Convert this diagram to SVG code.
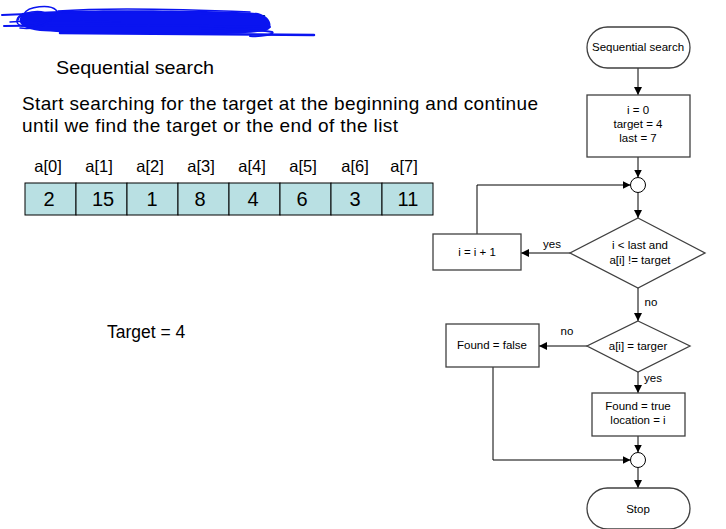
<svg xmlns="http://www.w3.org/2000/svg" width="726" height="529" viewBox="0 0 726 529">
<style>
text{font-family:"Liberation Sans",Arial,sans-serif;fill:#000}
.fc{font-size:11.5px;text-anchor:middle}
.box{fill:#fff;stroke:#404040;stroke-width:1.3}
.ln{fill:none;stroke:#000;stroke-width:1}
.cell{fill:#b9e0e3;stroke:#000;stroke-width:1}
.lbl{font-size:16.5px;text-anchor:middle}
.num{font-size:20px;text-anchor:middle}
.scr{fill:none;stroke:#0a14f0;stroke-linecap:round}
</style>
<defs>
<marker id="ah" viewBox="0 0 10 10" refX="10" refY="5" markerWidth="8" markerHeight="8" markerUnits="userSpaceOnUse" orient="auto">
<path d="M0,0 L10,5 L0,10 Z" fill="#000"/>
</marker>
</defs>
<g id="title">
<text x="30" y="27" font-size="22" textLength="235" lengthAdjust="spacingAndGlyphs">Searching for array</text>
<path d="M22,13 C70,9 200,10 258,13 C268,16 272,22 270,28 C268,33 240,34 200,34 C140,35 70,33 40,31 C24,29 18,24 20,18 Z" fill="#0a14f0"/>
<g class="scr">
<path d="M2,15 C40,13 120,12 200,13 C240,14 260,15 262,17" stroke-width="2"/>
<path d="M4,26 C60,25 150,25 270,27" stroke-width="2"/>
<path d="M60,33 C150,34 250,34 314,35" stroke-width="2.5"/>
<path d="M24,14 C28,6 50,4 56,10 C62,18 40,26 22,26 C14,24 16,16 24,14" stroke-width="1.5"/>
<path d="M18,20 C20,12 42,8 50,16 C54,24 34,30 20,28" stroke-width="1.5"/>
<path d="M58,11 C110,7 180,9 250,12" stroke-width="1.5"/>
<path d="M200,28 C230,29 260,30 272,32 C276,34 262,37 250,36" stroke-width="2"/>
<path d="M10,22 C40,20 80,21 120,22" stroke-width="1.5"/>
</g>
</g>
<g id="intro">
<text x="56" y="74" font-size="18.5" textLength="158" lengthAdjust="spacingAndGlyphs">Sequential  search</text>
<text x="22" y="110" font-size="19" textLength="516" lengthAdjust="spacing">Start searching  for the target at the beginning  and continue</text>
<text x="22" y="132" font-size="19" textLength="376" lengthAdjust="spacing">until  we find  the target or the end of the list</text>
<text x="107" y="338" font-size="17.5">Target = 4</text>
</g>
<g id="array">
<text class="lbl" x="48" y="172">a[0]</text>
<text class="lbl" x="99" y="172">a[1]</text>
<text class="lbl" x="150" y="172">a[2]</text>
<text class="lbl" x="201" y="172">a[3]</text>
<text class="lbl" x="252" y="172">a[4]</text>
<text class="lbl" x="303" y="172">a[5]</text>
<text class="lbl" x="355" y="172">a[6]</text>
<text class="lbl" x="404" y="172">a[7]</text>
<rect class="cell" x="25" y="183" width="51" height="32"/>
<rect class="cell" x="76" y="183" width="51" height="32"/>
<rect class="cell" x="127" y="183" width="51" height="32"/>
<rect class="cell" x="178" y="183" width="51" height="32"/>
<rect class="cell" x="229" y="183" width="51" height="32"/>
<rect class="cell" x="280" y="183" width="51" height="32"/>
<rect class="cell" x="331" y="183" width="51" height="32"/>
<rect class="cell" x="382" y="183" width="51" height="32"/>
<text class="num" x="49" y="206">2</text>
<text class="num" x="103" y="206">15</text>
<text class="num" x="152" y="206">1</text>
<text class="num" x="200" y="206">8</text>
<text class="num" x="253" y="206">4</text>
<text class="num" x="302" y="206">6</text>
<text class="num" x="355" y="206">3</text>
<text class="num" x="408" y="206">11</text>
</g>
<g id="connectors">
<path class="ln" d="M638,68 V95" marker-end="url(#ah)"/>
<path class="ln" d="M638,157 V177.5" marker-end="url(#ah)"/>
<path class="ln" d="M638,192.5 V218" marker-end="url(#ah)"/>
<path class="ln" d="M570,253 H521" marker-end="url(#ah)"/>
<path class="ln" d="M477,234 V185 H630.5" marker-end="url(#ah)"/>
<path class="ln" d="M638,288 V321" marker-end="url(#ah)"/>
<path class="ln" d="M587,346 H539" marker-end="url(#ah)"/>
<path class="ln" d="M638,372 V393" marker-end="url(#ah)"/>
<path class="ln" d="M638,436 V452.5" marker-end="url(#ah)"/>
<path class="ln" d="M493,367 V460 H630.5" marker-end="url(#ah)"/>
<path class="ln" d="M638,467.5 V488" marker-end="url(#ah)"/>
<text class="fc" x="552" y="248">yes</text>
<text class="fc" x="651" y="306">no</text>
<text class="fc" x="567" y="335">no</text>
<text class="fc" x="653" y="382">yes</text>
</g>
<g id="start">
<rect class="box" x="587" y="27" width="103" height="41" rx="20.5"/>
<text class="fc" x="638" y="51">Sequential search</text>
</g>
<g id="init">
<rect class="box" x="587" y="95" width="103" height="62"/>
<text class="fc" x="638" y="114">i = 0</text>
<text class="fc" x="638" y="128">target = 4</text>
<text class="fc" x="638" y="142">last = 7</text>
</g>
<g id="join1">
<circle cx="638" cy="185" r="7.5" fill="#fff" stroke="#000" stroke-width="1"/>
</g>
<g id="cond1">
<path class="box" d="M638,218 L705,253 L638,288 L570,253 Z"/>
<text class="fc" x="640" y="249">i &lt; last and</text>
<text class="fc" x="640" y="264">a[i]  != target</text>
</g>
<g id="incr">
<rect class="box" x="433" y="234" width="88" height="36"/>
<text class="fc" x="477" y="256">i = i + 1</text>
</g>
<g id="cond2">
<path class="box" d="M638,321 L690,346 L638,372 L587,346 Z"/>
<text class="fc" x="638" y="350">a[i] = targer</text>
</g>
<g id="notfound">
<rect class="box" x="446" y="324" width="93" height="43"/>
<text class="fc" x="492" y="349">Found = false</text>
</g>
<g id="found">
<rect class="box" x="592" y="393" width="93" height="43"/>
<text class="fc" x="638" y="410">Found = true</text>
<text class="fc" x="638" y="424">location = i</text>
</g>
<g id="join2">
<circle cx="638" cy="460" r="7.5" fill="#fff" stroke="#000" stroke-width="1"/>
</g>
<g id="stop">
<rect class="box" x="587" y="488" width="103" height="41" rx="20.5"/>
<text class="fc" x="638" y="513">Stop</text>
</g>
</svg>
